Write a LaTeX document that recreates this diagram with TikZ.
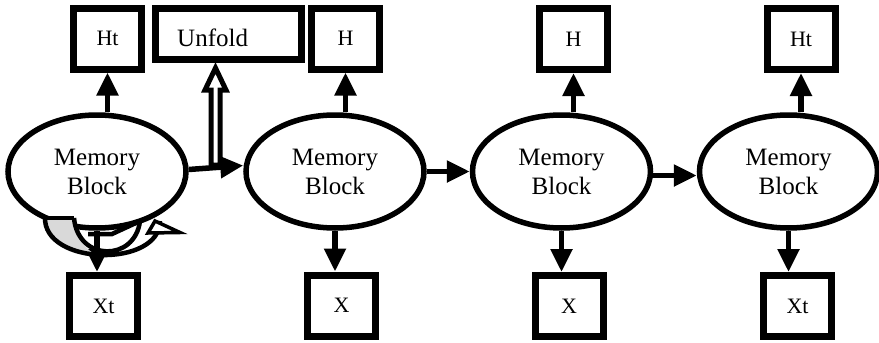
\documentclass[tikz,border=0pt]{standalone}
\usepackage{fontspec}
\setmainfont{Liberation Serif}
\usetikzlibrary{arrows.meta,shapes.geometric,calc}
\definecolor{loopgray}{HTML}{D9D9D9}
\tikzset{
  memblock/.style={ellipse, draw, line width=5.5pt, fill=white, minimum width=178pt, minimum height=113pt, inner sep=0pt, align=center, font=\fontsize{25}{29}\selectfont},
  valbox/.style={rectangle, draw, line width=7pt, fill=white, minimum width=68pt, minimum height=61pt, inner sep=0pt, font=\fontsize{22}{24}\selectfont},
  conn/.style={line width=5.5pt, -{Triangle[length=23pt,width=21pt]}},
  loopline/.style={line width=4.5pt},
  hollow/.style={line width=5pt, fill=white, line join=miter, miter limit=10}
}
\begin{document}
\begin{tikzpicture}[x=1pt,y=-1pt]
\useasboundingbox (0,0) rectangle (879,343);
% memory blocks
\node[memblock] (e1) at (97,171.5) {Memory\\Block};
\node[memblock] (e2) at (335,171.5) {Memory\\Block};
\node[memblock] (e3) at (561.5,171.5) {Memory\\Block};
\node[memblock] (e4) at (788.5,171.5) {Memory\\Block};
% top boxes
\node[valbox] (h1) at (107.5,38.5) {Ht};
\node[valbox] (h2) at (345.5,38.5) {H};
\node[valbox] (h3) at (573.5,39) {H};
\node[valbox] (h4) at (801,39) {Ht};
% bottom boxes
\node[valbox] (x1) at (103.5,306) {Xt};
\node[valbox] (x2) at (341.5,305.5) {X};
\node[valbox] (x3) at (569,306) {X};
\node[valbox] (x4) at (797.5,306) {Xt};
% unfold box
\node[rectangle, draw, line width=7pt, fill=white, minimum width=146pt, minimum height=51pt, inner sep=0pt] (un) at (228.5,34) {};
\node[anchor=base west, inner sep=0pt, font=\fontsize{25}{29}\selectfont] (unt) at (177,46) {Unfold};
% up arrows
\draw[conn] (e1.north -| h1.south) -- (h1.south);
\draw[conn] (e2.north -| h2.south) -- (h2.south);
\draw[conn] (e3.north -| h3.south) -- (h3.south);
\draw[conn] (e4.north -| h4.south) -- (h4.south);
% down arrows
\draw[conn] (e1.south) -- (e1.south |- x1.north);
\draw[conn] (e2.south) -- (e2.south |- x2.north);
\draw[conn] (e3.south) -- (e3.south |- x3.north);
\draw[conn] (e4.south) -- (e4.south |- x4.north);
% horizontal arrows
\draw[conn] ([yshift=2pt]e1.east) -- ([yshift=6pt]e2.west);
\draw[conn] (e2.east) -- (e3.west);
\draw[conn] ([yshift=-4pt]e3.east) -- ([yshift=-4pt]e4.west);
% hollow unfold arrow
\coordinate (ub) at (215.5,165);
\draw[hollow] ($(ub)+(-4.5,0)$) -- ($(ub)+(-4.5,-75)$) -- ($(ub)+(-10.5,-75)$) -- ($(ub)+(0,-97)$) -- ($(ub)+(10.5,-75)$) -- ($(ub)+(4.5,-75)$) -- ($(ub)+(4.5,0)$) -- cycle;
% self loop
\fill[loopgray] (46,219) -- (74,219) .. controls (77,238) and (85,250) .. (97,255) .. controls (70,253) and (47,242) .. cycle;
\draw[loopline] (45,217) .. controls (43,266) and (160,268) .. (160,221);
\draw[loopline] (44,218) -- (74,218);
\draw[loopline] (74,218) .. controls (78,262) and (135,262) .. (140,221);
\draw[loopline] (88,234) -- (112,234) -- (138,222);
\draw[line width=3.5pt, fill=white, line join=miter] (155,221) -- (180,232.5) -- (148,233) -- cycle;
\end{tikzpicture}
\end{document}
